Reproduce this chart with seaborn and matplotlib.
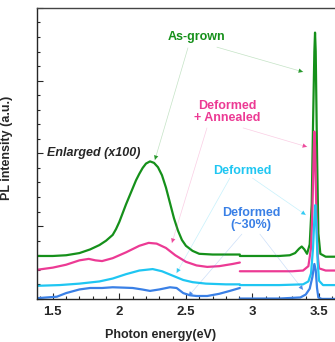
import numpy as np
import pandas as pd
import matplotlib
matplotlib.use('Agg')
import matplotlib.pyplot as plt
import seaborn as sns
from matplotlib.ticker import MultipleLocator

green_left_x = [1.38, 1.50, 1.60, 1.70, 1.78, 1.85, 1.90, 1.95, 1.975, 2.00, 2.025, 2.05, 2.075, 2.10,
                2.125, 2.15, 2.175, 2.20, 2.23, 2.26, 2.29, 2.32, 2.35, 2.38, 2.41, 2.44, 2.47, 2.50,
                2.55, 2.60, 2.70, 2.80, 2.905]
green_left_y = [0.59, 0.59, 0.60, 0.63, 0.68, 0.74, 0.80, 0.88, 0.96, 1.06, 1.18, 1.30, 1.41, 1.52,
                1.63, 1.72, 1.80, 1.86, 1.89, 1.87, 1.81, 1.70, 1.53, 1.32, 1.11, 0.94, 0.81, 0.73,
                0.66, 0.62, 0.61, 0.61, 0.61]
green_right_x = [2.905, 3.0, 3.1, 3.2, 3.28, 3.32, 3.35, 3.37, 3.39, 3.41, 3.43, 3.445, 3.455, 3.465,
                 3.47, 3.475, 3.485, 3.495, 3.51, 3.55, 3.63]
green_right_y = [0.59, 0.59, 0.59, 0.59, 0.60, 0.63, 0.69, 0.72, 0.68, 0.62, 0.75, 1.3, 2.4, 3.4,
                 3.66, 3.4, 2.0, 0.9, 0.62, 0.58, 0.58]

pink_left_x = [1.38, 1.50, 1.60, 1.70, 1.77, 1.82, 1.87, 1.95, 2.05, 2.15, 2.22, 2.28, 2.35, 2.42,
               2.50, 2.58, 2.66, 2.75, 2.85, 2.905]
pink_left_y = [0.40, 0.43, 0.47, 0.53, 0.55, 0.53, 0.52, 0.56, 0.64, 0.73, 0.77, 0.76, 0.70, 0.60,
               0.51, 0.46, 0.44, 0.45, 0.48, 0.50]
pink_right_x = [2.905, 3.1, 3.3, 3.38, 3.42, 3.44, 3.45, 3.46, 3.465, 3.47, 3.48, 3.49, 3.50, 3.55, 3.63]
pink_right_y = [0.38, 0.38, 0.38, 0.39, 0.45, 0.70, 1.20, 2.00, 2.30, 2.10, 1.20, 0.60, 0.42, 0.39, 0.39]

cyan_left_x = [1.38, 1.55, 1.70, 1.85, 1.95, 2.05, 2.15, 2.25, 2.32, 2.40, 2.48, 2.55, 2.65, 2.80, 2.905]
cyan_left_y = [0.18, 0.19, 0.21, 0.24, 0.28, 0.34, 0.39, 0.41, 0.38, 0.32, 0.26, 0.23, 0.21, 0.20, 0.20]
cyan_right_x = [2.905, 3.2, 3.38, 3.42, 3.44, 3.455, 3.465, 3.472, 3.48, 3.49, 3.50, 3.53, 3.63]
cyan_right_y = [0.19, 0.19, 0.20, 0.24, 0.35, 0.70, 1.10, 1.29, 1.00, 0.50, 0.25, 0.19, 0.19]

blue_left_x = [1.38, 1.53, 1.60, 1.70, 1.78, 1.87, 1.95, 2.03, 2.10, 2.17, 2.23, 2.30, 2.38, 2.43,
               2.48, 2.53, 2.58, 2.66, 2.75, 2.83, 2.905]
blue_left_y = [0.01, 0.03, 0.08, 0.13, 0.15, 0.15, 0.16, 0.155, 0.15, 0.13, 0.11, 0.13, 0.16, 0.15,
               0.08, 0.05, 0.04, 0.04, 0.07, 0.11, 0.15]
blue_right_x = [2.905, 3.2, 3.36, 3.40, 3.43, 3.45, 3.465, 3.475, 3.485, 3.495, 3.52, 3.63]
blue_right_y = [0.005, 0.005, 0.02, 0.06, 0.14, 0.30, 0.48, 0.40, 0.15, 0.02, 0.0, 0.0]

GREEN = '#15901a'
PINK = '#ec3a94'
CYAN = '#1fc6f2'
BLUE = '#3a80e6'

sns.set_style('ticks')
plt.rcParams['font.family'] = ['Liberation Sans', 'DejaVu Sans']

fig = plt.figure(figsize=(3.35, 3.42), dpi=100)
ax = fig.add_axes([0.110, 0.126, 0.89, 0.851])

curves = [
    (green_left_x, green_left_y, green_right_x, green_right_y, GREEN),
    (pink_left_x, pink_left_y, pink_right_x, pink_right_y, PINK),
    (cyan_left_x, cyan_left_y, cyan_right_x, cyan_right_y, CYAN),
    (blue_left_x, blue_left_y, blue_right_x, blue_right_y, BLUE),
]
for lx, ly, rx, ry, c in curves:
    sns.lineplot(x=lx, y=ly, ax=ax, color=c, lw=1.6, estimator=None, sort=False)
    sns.lineplot(x=rx, y=ry, ax=ax, color=c, lw=1.6, estimator=None, sort=False)

ax.set_xlim(1.38, 3.62)
ax.set_ylim(0, 4)
ax.xaxis.set_major_locator(MultipleLocator(0.5))
ax.xaxis.set_minor_locator(MultipleLocator(0.1))
ax.yaxis.set_major_locator(MultipleLocator(1))
ax.yaxis.set_minor_locator(MultipleLocator(0.2))
ax.set_xticks([1.5, 2, 2.5, 3, 3.5])
ax.set_xticklabels(['1.5', '2', '2.5', '3', '3.5'], fontweight='bold', fontsize=9.5)
ax.set_yticklabels([])
ax.tick_params(axis='both', which='major', direction='in', length=4, width=0.8)
ax.tick_params(axis='both', which='minor', direction='in', length=2.5, width=0.8)
ax.tick_params(axis='x', pad=5)
ax.spines['right'].set_visible(False)
ax.spines['top'].set_color('#444444')
for s in ['left', 'bottom', 'top']:
    ax.spines[s].set_linewidth(1.0)

ax.set_xlabel('Photon energy(eV)', fontweight='bold', fontsize=9)
ax.xaxis.set_label_coords(0.415, -0.105)
ax.set_ylabel('PL intensity (a.u.)', fontweight='bold', fontsize=9)
ax.yaxis.set_label_coords(-0.08, 0.52)

ax.text(1.455, 2.01, 'Enlarged (x100)', fontweight='bold', fontstyle='italic', fontsize=9,
        ha='left', va='center')

labels = [
    ('As-grown', 2.583, 3.60, GREEN, [((2.733, 3.46), (3.38, 3.12)), ((2.515, 3.45), (2.267, 1.91))]),
    ('Deformed\n+ Annealed', 2.808, 2.57, PINK, [((2.93, 2.35), (3.41, 2.09)), ((2.658, 2.35), (2.395, 0.77))]),
    ('Deformed', 2.92, 1.76, CYAN, [((3.0, 1.66), (3.40, 1.155)), ((2.83, 1.66), (2.43, 0.357))]),
    ('Deformed\n(~30%)', 2.99, 1.10, BLUE, [((3.056, 0.89), (3.38, 0.124)), ((2.92, 0.89), (2.52, 0.04))]),
]
for txt, tx, ty, c, arrows in labels:
    ax.text(tx, ty, txt, color=c, fontweight='bold', fontsize=9, ha='center', va='center',
            linespacing=1.05)
    for tail, head in arrows:
        ax.annotate('', xy=head, xytext=tail,
                    arrowprops=dict(arrowstyle='-', color=c, lw=0.5, alpha=0.25,
                                    shrinkA=0, shrinkB=0))
        ax.annotate('', xy=head, xytext=tail,
                    arrowprops=dict(arrowstyle='-|>', color=c, lw=0, alpha=0.9,
                                    mutation_scale=8, shrinkA=0, shrinkB=0))

fig.savefig('out.png', dpi=100)
